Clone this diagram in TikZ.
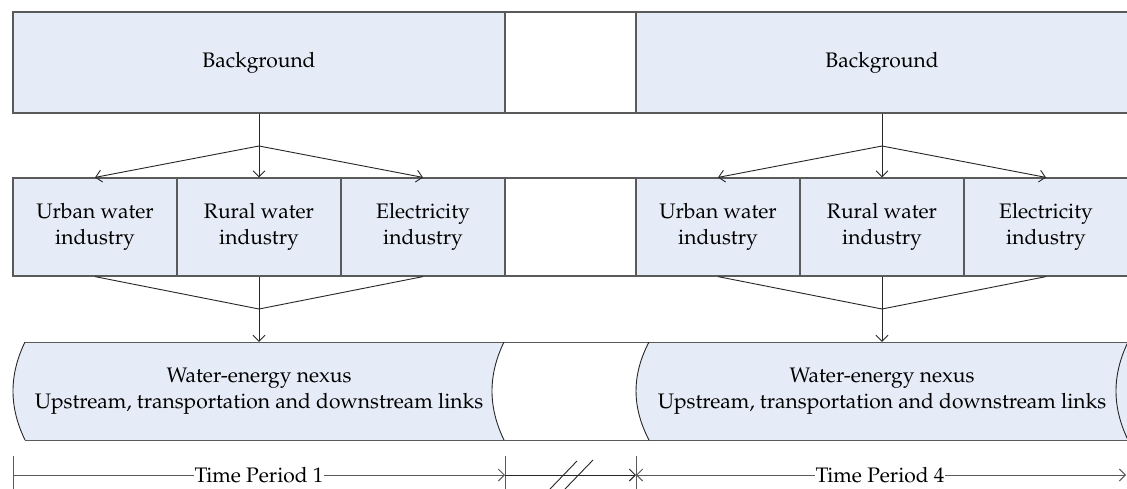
\documentclass[tikz,border=0pt]{standalone}
\usepackage[T1]{fontenc}
\renewcommand{\rmdefault}{ppl}
\usetikzlibrary{arrows.meta}
\definecolor{boxfill}{RGB}{230,236,247}
\definecolor{edge}{RGB}{90,90,90}
\begin{document}
\begin{tikzpicture}[x=1pt,y=-1pt,
  lbl/.style={font=\fontsize{21}{26}\selectfont, align=center, inner sep=0pt},
  box/.style={lbl, draw=edge, fill=boxfill, line width=1.2pt, minimum height=#1},
  blank/.style={draw=edge, fill=white, line width=1.2pt, minimum height=#1},
  conn/.style={draw=black!85, line width=0.9pt},
  tip/.style={-{Straight Barb[length=6pt,width=12pt]}},
  tline/.style={draw=edge, line width=1pt},
  bar/.style={draw=edge, line width=1pt},
  arcline/.style={draw=black!85, line width=0.9pt}
]
\useasboundingbox (0,0) rectangle (1127,488);
\clip (0,0) rectangle (1127,488);
\fill[white] (0,0) rectangle (1127,488);

% top row
\node[box=101pt, minimum width=492pt] (bg1) at (259,62.5) {Background};
\node[blank=101pt, minimum width=131pt] (gapT) at (570.5,62.5) {};
\node[box=101pt, minimum width=492pt] (bg2) at (882,62.5) {Background};

% industry row
\node[box=98pt, minimum width=164pt] (ui1) at (95,227) {Urban water\\industry};
\node[box=98pt, minimum width=164pt] (ri1) at (259,227) {Rural water\\industry};
\node[box=98pt, minimum width=164pt] (ei1) at (423,227) {Electricity\\industry};
\node[blank=98pt, minimum width=131pt] (gapM) at (570.5,227) {};
\node[box=98pt, minimum width=164pt] (ui2) at (718,227) {Urban water\\industry};
\node[box=98pt, minimum width=164pt] (ri2) at (882,227) {Rural water\\industry};
\node[box=98pt, minimum width=164pt] (ei2) at (1046,227) {Electricity\\industry};

% water-energy band
\fill[boxfill] (25,342) -- (504,342) .. controls (488,375) and (488,407) .. (504,440)
  -- (25,440) .. controls (9,407) and (9,375) .. (25,342) -- cycle;
\fill[boxfill] (649,342) -- (1140,342) -- (1140,440) -- (649,440)
  .. controls (631.7,407) and (631.7,375) .. (649,342) -- cycle;
\draw[bar] (25,342) -- (1140,342);
\draw[bar] (25,440) -- (1140,440);
\draw[arcline] (25,342) .. controls (9,375) and (9,407) .. (25,440);
\draw[arcline] (504,342) .. controls (488,375) and (488,407) .. (504,440);
\draw[arcline] (649,342) .. controls (631.7,375) and (631.7,407) .. (649,440);
\draw[arcline] (1128,342) .. controls (1112,375) and (1112,407) .. (1128,440);
\node[lbl, minimum width=479pt, minimum height=98pt] (we1) at (259,391)
  {Water-energy nexus\\Upstream, transportation and downstream links};
\node[lbl, minimum width=479pt, minimum height=98pt] (we2) at (882,391)
  {Water-energy nexus\\Upstream, transportation and downstream links};

% branching connectors
\coordinate (j1) at (259,146);
\coordinate (j2) at (259,309);
\coordinate (j3) at (882,146);
\coordinate (j4) at (882,309);
\draw[conn, tip] (bg1.south) -- (ri1.north);
\draw[conn, tip] (j1) -- (ui1.north);
\draw[conn, tip] (j1) -- (ei1.north);
\draw[conn] (ui1.south) -- (j2) -- (ei1.south);
\draw[conn, tip] (ri1.south) -- (we1.north);
\draw[conn, tip] (bg2.south) -- (ri2.north);
\draw[conn, tip] (j3) -- (ui2.north);
\draw[conn, tip] (j3) -- (ei2.north);
\draw[conn] (ui2.south) -- (j4) -- (ei2.south);
\draw[conn, tip] (ri2.south) -- (we2.north);

% time axis
\coordinate (t0) at (13,475);
\coordinate (t1) at (505,475);
\coordinate (t2) at (636,475);
\coordinate (t3) at (1126,475);
\draw[tline] (13,456) -- (13,492);
\draw[tline] (505,456) -- (505,492);
\draw[tline] (636,456) -- (636,492);
\draw[tline, tip] (t0) -- (t1);
\draw[conn, tip] (t1) -- (t2);
\draw[tline, {Straight Barb[length=6pt,width=12pt]}-{Straight Barb[length=6pt,width=12pt]}] (t2) -- (t3);
\draw[conn] (550,489) -- (577,461);
\draw[conn] (565,489) -- (593,460);
\node[lbl, fill=white, inner xsep=1pt] (tp1) at (259,475) {Time Period 1};
\node[lbl, fill=white, inner xsep=1pt] (tp4) at (880,475) {Time Period 4};
\end{tikzpicture}
\end{document}
